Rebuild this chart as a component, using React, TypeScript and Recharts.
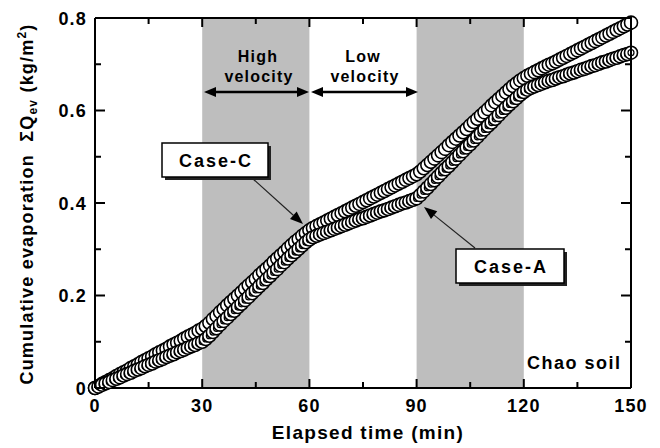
import React from "react";
import { ComposedChart, Line, XAxis, YAxis, ReferenceArea } from "recharts";

const FONT = "'Liberation Sans', Arial, Helvetica, sans-serif";

// elapsed time (min), one reading per minute
const minutes = [
  0, 1, 2, 3, 4, 5, 6, 7, 8, 9,
  10, 11, 12, 13, 14, 15, 16, 17, 18, 19,
  20, 21, 22, 23, 24, 25, 26, 27, 28, 29,
  30, 31, 32, 33, 34, 35, 36, 37, 38, 39,
  40, 41, 42, 43, 44, 45, 46, 47, 48, 49,
  50, 51, 52, 53, 54, 55, 56, 57, 58, 59,
  60, 61, 62, 63, 64, 65, 66, 67, 68, 69,
  70, 71, 72, 73, 74, 75, 76, 77, 78, 79,
  80, 81, 82, 83, 84, 85, 86, 87, 88, 89,
  90, 91, 92, 93, 94, 95, 96, 97, 98, 99,
  100, 101, 102, 103, 104, 105, 106, 107, 108, 109,
  110, 111, 112, 113, 114, 115, 116, 117, 118, 119,
  120, 121, 122, 123, 124, 125, 126, 127, 128, 129,
  130, 131, 132, 133, 134, 135, 136, 137, 138, 139,
  140, 141, 142, 143, 144, 145, 146, 147, 148, 149, 150,
];

// cumulative evaporation (kg/m2)
const caseC = [
  0, 0.004, 0.009, 0.013, 0.017, 0.021, 0.026, 0.030, 0.034, 0.038,
  0.043, 0.047, 0.051, 0.056, 0.060, 0.064, 0.068, 0.073, 0.077, 0.081,
  0.085, 0.090, 0.094, 0.098, 0.102, 0.107, 0.111, 0.115, 0.119, 0.124,
  0.128, 0.134, 0.141, 0.149, 0.156, 0.164, 0.171, 0.179, 0.186, 0.193,
  0.200, 0.207, 0.215, 0.222, 0.229, 0.236, 0.244, 0.251, 0.258, 0.265,
  0.273, 0.280, 0.287, 0.294, 0.302, 0.309, 0.316, 0.322, 0.329, 0.335,
  0.341, 0.346, 0.350, 0.354, 0.358, 0.362, 0.366, 0.370, 0.374, 0.378,
  0.382, 0.386, 0.390, 0.394, 0.398, 0.402, 0.406, 0.410, 0.414, 0.418,
  0.422, 0.426, 0.430, 0.434, 0.438, 0.442, 0.446, 0.450, 0.454, 0.458,
  0.462, 0.468, 0.475, 0.482, 0.489, 0.496, 0.503, 0.510, 0.517, 0.525,
  0.532, 0.539, 0.546, 0.553, 0.560, 0.568, 0.575, 0.582, 0.589, 0.596,
  0.603, 0.611, 0.618, 0.625, 0.632, 0.639, 0.646, 0.653, 0.659, 0.665,
  0.670, 0.675, 0.679, 0.683, 0.687, 0.691, 0.695, 0.699, 0.702, 0.706,
  0.710, 0.714, 0.718, 0.722, 0.726, 0.730, 0.734, 0.738, 0.742, 0.746,
  0.750, 0.754, 0.758, 0.762, 0.766, 0.770, 0.774, 0.778, 0.782, 0.786, 0.790,
];

const caseA = [
  0, 0.003, 0.007, 0.010, 0.013, 0.017, 0.020, 0.023, 0.027, 0.030,
  0.033, 0.037, 0.040, 0.043, 0.047, 0.050, 0.053, 0.057, 0.060, 0.063,
  0.067, 0.070, 0.073, 0.077, 0.080, 0.083, 0.087, 0.090, 0.093, 0.097,
  0.100, 0.106, 0.113, 0.121, 0.129, 0.137, 0.145, 0.152, 0.160, 0.167,
  0.175, 0.182, 0.190, 0.197, 0.205, 0.212, 0.220, 0.227, 0.235, 0.242,
  0.250, 0.257, 0.265, 0.272, 0.280, 0.287, 0.294, 0.301, 0.308, 0.315,
  0.321, 0.326, 0.329, 0.332, 0.335, 0.338, 0.341, 0.344, 0.347, 0.350,
  0.353, 0.356, 0.359, 0.362, 0.365, 0.367, 0.370, 0.373, 0.376, 0.379,
  0.382, 0.384, 0.387, 0.390, 0.393, 0.396, 0.399, 0.401, 0.404, 0.407,
  0.410, 0.417, 0.425, 0.433, 0.441, 0.449, 0.457, 0.465, 0.473, 0.480,
  0.488, 0.496, 0.504, 0.512, 0.520, 0.527, 0.535, 0.543, 0.551, 0.559,
  0.567, 0.574, 0.582, 0.590, 0.598, 0.606, 0.613, 0.620, 0.627, 0.634,
  0.640, 0.645, 0.649, 0.652, 0.655, 0.658, 0.661, 0.664, 0.666, 0.669,
  0.672, 0.674, 0.677, 0.680, 0.682, 0.685, 0.688, 0.690, 0.693, 0.696,
  0.698, 0.701, 0.704, 0.706, 0.709, 0.712, 0.714, 0.717, 0.720, 0.722, 0.725,
];

const xTicks = [0, 15, 30, 45, 60, 75, 90, 105, 120, 135, 150];
const xLabels = [0, 30, 60, 90, 120, 150];
const yTicks = [0, 0.1, 0.2, 0.3, 0.4, 0.5, 0.6, 0.7, 0.8];
const yLabels = [0, 0.2, 0.4, 0.6, 0.8];
const bands = [[30, 60], [90, 120]];
const X_DOMAIN = [0, 150];
const Y_DOMAIN = [0, 0.8];

const data = minutes.map((t, i) => ({ t, c: caseC[i], a: caseA[i] }));

// chart geometry: plot box runs x 95..631, y 18..388
const W = 660, H = 448;
const MARGIN = { top: 18, right: 29, bottom: 20, left: 35 };
const Y_AXIS_W = 60, X_AXIS_H = 40;
const PLOT = {
  left: MARGIN.left + Y_AXIS_W,
  right: W - MARGIN.right,
  top: MARGIN.top,
  bottom: H - MARGIN.bottom - X_AXIS_H,
};
const px = (t: number) => PLOT.left + ((t - X_DOMAIN[0]) / (X_DOMAIN[1] - X_DOMAIN[0])) * (PLOT.right - PLOT.left);
const py = (v: number) => PLOT.bottom - ((v - Y_DOMAIN[0]) / (Y_DOMAIN[1] - Y_DOMAIN[0])) * (PLOT.bottom - PLOT.top);

const labelStyle = { fontFamily: FONT, fontWeight: "bold" as const, fontSize: 18, letterSpacing: 1.2, fill: "#000" };

function BottomTick({ x, y, payload }: any) {
  if (!xLabels.includes(payload.value)) return <g />;
  return <text x={x} y={y + 24} textAnchor="middle" style={labelStyle}>{payload.value}</text>;
}

function LeftTick({ x, y, payload }: any) {
  const v = payload.value;
  if (!yLabels.includes(v)) return <g />;
  return (
    <text x={x - 8} y={y + 6.5} textAnchor="end" style={labelStyle}>
      {v === 0 ? "0" : v.toFixed(1)}
    </text>
  );
}

const openDot = (p: any) => (
  <circle key={`c${p.index}`} cx={p.cx} cy={p.cy} r={6.5} fill="#fff" stroke="#000" strokeWidth={1.6} />
);

const ringDot = (p: any) => (
  <g key={`a${p.index}`}>
    <circle cx={p.cx} cy={p.cy} r={6.5} fill="#fff" stroke="#000" strokeWidth={1.6} />
    <circle cx={p.cx} cy={p.cy} r={3} fill="none" stroke="#000" strokeWidth={1.2} />
  </g>
);

// inward ticks on all four sides plus the top/right frame
function Frame() {
  const s = { stroke: "#000", strokeWidth: 2 };
  return (
    <g>
      <line x1={PLOT.left} x2={PLOT.right + 1} y1={PLOT.top} y2={PLOT.top} {...s} />
      <line x1={PLOT.right} x2={PLOT.right} y1={PLOT.top} y2={PLOT.bottom} {...s} />
      {xTicks.map((t) => {
        const len = xLabels.includes(t) ? 9 : 6;
        const x = px(t);
        return (
          <g key={`x${t}`}>
            <line x1={x} x2={x} y1={PLOT.bottom} y2={PLOT.bottom - len} {...s} />
            <line x1={x} x2={x} y1={PLOT.top} y2={PLOT.top + len} {...s} />
          </g>
        );
      })}
      {yTicks.map((v) => {
        const len = yLabels.includes(v) ? 10 : 6;
        const y = py(v);
        return (
          <g key={`y${v}`}>
            <line x1={PLOT.left} x2={PLOT.left + len} y1={y} y2={y} {...s} />
            <line x1={PLOT.right} x2={PLOT.right - len} y1={y} y2={y} {...s} />
          </g>
        );
      })}
    </g>
  );
}

function DoubleArrow({ x1, x2, y }: { x1: number; x2: number; y: number }) {
  return (
    <g>
      <line x1={x1 + 8} x2={x2 - 8} y1={y} y2={y} stroke="#000" strokeWidth={2.5} />
      <polygon points={`${x1},${y} ${x1 + 12},${y - 5} ${x1 + 12},${y + 5}`} fill="#000" />
      <polygon points={`${x2},${y} ${x2 - 12},${y - 5} ${x2 - 12},${y + 5}`} fill="#000" />
    </g>
  );
}

function Pointer({ x1, y1, x2, y2 }: { x1: number; y1: number; x2: number; y2: number }) {
  const dx = x2 - x1, dy = y2 - y1;
  const len = Math.hypot(dx, dy);
  const ux = dx / len, uy = dy / len;
  const bx = x2 - ux * 13, by = y2 - uy * 13;
  return (
    <g>
      <line x1={x1} y1={y1} x2={bx} y2={by} stroke="#222" strokeWidth={1.2} />
      <polygon
        points={`${x2},${y2} ${bx - uy * 5},${by + ux * 5} ${bx + uy * 5},${by - ux * 5}`}
        fill="#000"
      />
    </g>
  );
}

function Box({ x, y, w, h, label }: { x: number; y: number; w: number; h: number; label: string }) {
  return (
    <g>
      <rect x={x + 3} y={y + 3} width={w} height={h} fill="#222" />
      <rect x={x} y={y} width={w} height={h} fill="#fff" stroke="#000" strokeWidth={1.5} />
      <text x={x + w / 2 + 1} y={y + h / 2 + 6.5} textAnchor="middle" fontSize={18} letterSpacing={2}>
        {label}
      </text>
    </g>
  );
}

function Annotations() {
  return (
    <svg width={W} height={H} style={{ position: "absolute", left: 0, top: 0, pointerEvents: "none" }}>
      <Frame />
      <g fontFamily={FONT} fontWeight="bold" fill="#000">
        <text x={258} y={62} textAnchor="middle" fontSize={16} letterSpacing={1.2}>High</text>
        <text x={259} y={82} textAnchor="middle" fontSize={16} letterSpacing={1.2}>velocity</text>
        <text x={363} y={62} textAnchor="middle" fontSize={16} letterSpacing={1.2}>Low</text>
        <text x={365} y={82} textAnchor="middle" fontSize={16} letterSpacing={1.2}>velocity</text>
        <DoubleArrow x1={204} x2={309} y={92} />
        <DoubleArrow x1={311} x2={418} y={92} />
        <Pointer x1={252} y1={178} x2={303} y2={224} />
        <Pointer x1={475} y1={248} x2={424} y2={207} />
        <Box x={162} y={143} w={106} h={34} label="Case-C" />
        <Box x={456} y={249} w={108} h={34} label="Case-A" />
        <text x={527} y={369} fontSize={18} letterSpacing={1.5}>Chao soil</text>
        <text x={368} y={439} textAnchor="middle" fontSize={19} letterSpacing={1.3}>Elapsed time (min)</text>
        <text transform="translate(33,204) rotate(-90)" textAnchor="middle" fontSize={18} letterSpacing={1.2}>
          Cumulative evaporation{"\u00a0\u00a0"}ΣQ
          <tspan fontSize={12} dy={4}>ev</tspan>
          <tspan dy={-4}>{"\u00a0"}(kg/m</tspan>
          <tspan fontSize={12} dy={-7}>2</tspan>
          <tspan dy={7}>)</tspan>
        </text>
      </g>
    </svg>
  );
}

export default function App() {
  return (
    <div style={{ position: "absolute", left: 0, top: 0, width: W, height: H, background: "#fff" }}>
      <ComposedChart width={W} height={H} data={data} margin={MARGIN}>
        {bands.map(([a, b]) => (
          <ReferenceArea key={a} x1={a} x2={b} y1={Y_DOMAIN[0]} y2={Y_DOMAIN[1]}
            fill="#bebebe" fillOpacity={1} stroke="none" />
        ))}
        <XAxis dataKey="t" type="number" domain={X_DOMAIN} ticks={xTicks} interval={0}
          tick={BottomTick} tickSize={0} tickMargin={0} tickLine={false} height={X_AXIS_H}
          axisLine={{ stroke: "#000", strokeWidth: 2 }} />
        <YAxis type="number" domain={Y_DOMAIN} ticks={yTicks} interval={0}
          tick={LeftTick} tickSize={0} tickMargin={0} tickLine={false} width={Y_AXIS_W}
          axisLine={{ stroke: "#000", strokeWidth: 2 }} />
        <Line dataKey="c" stroke="#000" strokeOpacity={0} dot={openDot} activeDot={false}
          isAnimationActive={false} />
        <Line dataKey="a" stroke="#000" strokeOpacity={0} dot={ringDot} activeDot={false}
          isAnimationActive={false} />
      </ComposedChart>
      <Annotations />
    </div>
  );
}
